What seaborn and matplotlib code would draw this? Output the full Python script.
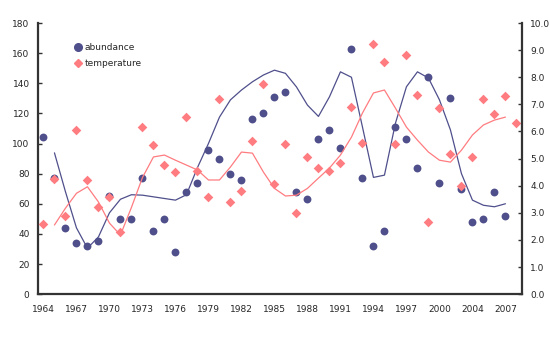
import numpy as np
import pandas as pd
import matplotlib
matplotlib.use("Agg")
import matplotlib.pyplot as plt
import seaborn as sns
from matplotlib.lines import Line2D

# 연도 (2002년 없음)
years = list(range(1964, 2002)) + list(range(2003, 2009))

# abundance 값 (왼쪽 축)
abundance = [104, 77, 44, 34, 32, 35, 65, 50, 50, 77,
             42, 50, 28, 68, 74, 96, 90, 80, 76, 116,
             120, 131, 134, 68, 63, 103, 109, 97, 163, 77,
             32, 42, 111, 103, 84, 144, 74, 130, 70, 48,
             50, 68, 52, np.nan]

# temperature 값 (오른쪽 축)
temperature = [2.58, 4.24, 2.88, 6.05, 4.2, 3.21, 3.58, 2.29, np.nan, 6.16,
               5.5, 4.76, 4.5, 6.53, 4.54, 3.58, 7.2, 3.39, 3.8, 5.65,
               7.75, 4.06, 5.53, 2.99, 5.06, 4.65, 4.54, 4.83, 6.9, 5.57,
               9.22, 8.56, 5.53, 8.82, 7.34, 2.66, 6.86, 5.17, 3.99, 5.06,
               7.2, 6.64, 7.3, 6.3]

# 추세선 (1965년부터)
abundance_trend = [np.nan, 93.8, 68, 44, 30.5, 38, 54, 63, 66, 65.7,
                   64.6, 63.5, 62.4, 66, 84, 100, 117.5, 129, 135.5, 141,
                   145.5, 148.7, 146.6, 137.6, 125.5, 118, 131, 147.6, 144, 111,
                   77.5, 79, 113.5, 137.7, 147.6, 143.5, 129, 109, 80, 62.4,
                   59, 58, 60, np.nan]
temperature_trend = [np.nan, 2.55, 3.17, 3.72, 3.96, 3.4, 2.62, 2.18, 3.2, 4.3,
                     5.06, 5.13, 4.94, 4.76, 4.58, 4.21, 4.21, 4.69, 5.24, 5.2,
                     4.5, 3.9, 3.62, 3.65, 3.9, 4.28, 4.65, 5.13, 5.79, 6.68,
                     7.42, 7.53, 6.86, 6.16, 5.68, 5.24, 4.94, 4.87, 5.31, 5.87,
                     6.24, 6.42, 6.53, np.nan]

df = pd.DataFrame({
    'idx': range(len(years)),
    'year': years,
    'abundance': abundance,
    'temperature': temperature,
    'abundance_trend': abundance_trend,
    'temperature_trend': temperature_trend,
})

blue = '#4F4F8C'
pink = '#FF7C80'

sns.set_style('white')
plt.rcParams['font.family'] = ['DejaVu Sans']

fig, ax = plt.subplots(figsize=(5.5, 3.6), dpi=100)
fig.subplots_adjust(left=0.069, right=0.949, top=0.936, bottom=0.183)
ax2 = ax.twinx()

# abundance: 점 + 추세선
sns.lineplot(x='idx', y='abundance_trend', data=df, ax=ax, color=blue, lw=0.9)
sns.scatterplot(x='idx', y='abundance', data=df, ax=ax, color=blue,
                marker='o', s=32, edgecolor=blue, linewidth=0)

# temperature: 점 + 추세선
sns.lineplot(x='idx', y='temperature_trend', data=df, ax=ax2, color=pink, lw=0.9)
sns.scatterplot(x='idx', y='temperature', data=df, ax=ax2, color=pink,
                marker='D', s=24, edgecolor=pink, linewidth=0)

# 축 설정
ax.set_xlim(-0.5, len(years) - 0.5)
ax.set_ylim(0, 180)
ax2.set_ylim(0, 10)
ax.set_yticks(range(0, 181, 20))
ax2.set_yticks(np.arange(0, 10.1, 1))
ax2.set_yticklabels([f"{v:.1f}" for v in np.arange(0, 10.1, 1)])

label_idx = list(range(0, len(years), 3))
ax.set_xticks(label_idx)
ax.set_xticklabels([str(years[i]) for i in label_idx])
ax.set_xticks(np.arange(-0.5, len(years), 1), minor=True)

ax.set_xlabel('')
ax.set_ylabel('')
ax2.set_ylabel('')

for a in (ax, ax2):
    for s in a.spines.values():
        s.set_visible(False)
ax.spines['left'].set_visible(True)
ax.spines['bottom'].set_visible(True)
ax2.spines['right'].set_visible(True)
for s in (ax.spines['left'], ax.spines['bottom'], ax2.spines['right']):
    s.set_color('#333333')
    s.set_linewidth(1.6)

ax.tick_params(axis='x', which='major', length=0, pad=8, labelsize=6.5)
ax.tick_params(axis='x', which='minor', length=3, width=1, direction='out', color='#333333')
ax.tick_params(axis='y', length=3, width=1, direction='in', labelsize=6.5, pad=6, color='#333333')
ax2.tick_params(axis='y', length=3, width=1, direction='in', labelsize=6.5, pad=6, color='#333333')
ax.grid(False)
ax2.grid(False)

# 범례
handles = [
    Line2D([], [], marker='o', color=blue, linestyle='none', markersize=5.5),
    Line2D([], [], marker='D', color=pink, linestyle='none', markersize=4.5),
]
ax2.legend(handles, ['abundance', 'temperature'], loc='upper left',
           bbox_to_anchor=(0.055, 0.955), frameon=False, fontsize=6.5,
           handletextpad=0.1, labelspacing=0.7, handlelength=1.2)

plt.savefig('out.png', dpi=100)
